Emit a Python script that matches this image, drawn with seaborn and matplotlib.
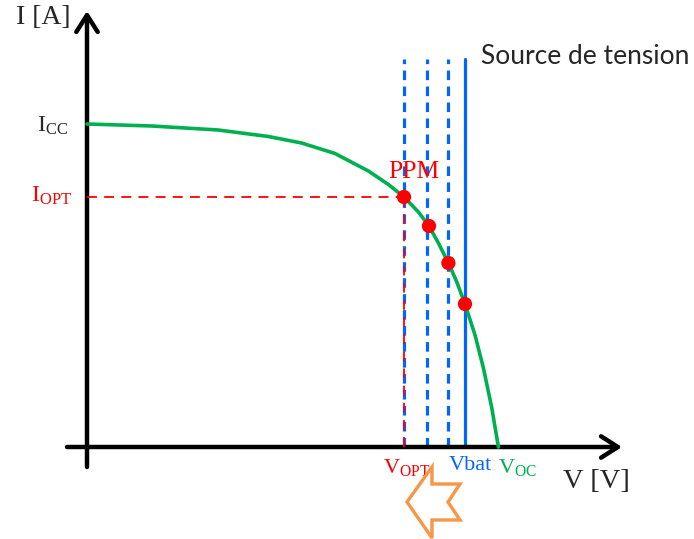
import matplotlib
matplotlib.use("Agg")
import matplotlib.pyplot as plt
import seaborn as sns
import pandas as pd
from matplotlib.patches import Polygon

# I-V characteristic of a PV module (V in volts, I in amperes)
curve_v = [0.0, 3.24, 6.56, 9.07, 10.73, 12.4, 14.07, 15.07, 15.85, 16.57,
           17.1, 17.57, 18.07, 18.49, 18.9, 19.4, 19.82, 20.24, 20.57]
curve_i = [3.23, 3.21, 3.17, 3.105, 3.04, 2.935, 2.76, 2.625, 2.50, 2.35,
           2.21, 2.04, 1.84, 1.65, 1.43, 1.12, 0.79, 0.39, 0.0]

# Operating points for successive battery voltages
op_v = [15.85, 17.1, 18.07, 18.9]
op_i = [2.50, 2.21, 1.84, 1.43]
source_v = [15.85, 17.0, 18.05, 18.9]
source_top = 3.88

v_opt, i_opt = 15.85, 2.50

GREEN = "#00B050"
BLUE = "#0066FF"
RED = "#FF0000"
ORANGE = "#F79646"

sns.set_theme(style="white")
plt.rcParams["mathtext.fontset"] = "custom"
plt.rcParams["mathtext.rm"] = "Liberation Serif"
plt.rcParams["mathtext.it"] = "Liberation Serif:italic"
SERIF = ["Liberation Serif", "DejaVu Serif"]

fig = plt.figure(figsize=(6.94, 5.39), dpi=100)
ax = fig.add_axes([0, 0, 1, 1])

# Axes with arrow heads
arrow_kw = dict(arrowstyle="->,head_length=0.55,head_width=0.35", lw=3.2,
                color="black", mutation_scale=22, shrinkA=0, shrinkB=0)
ax.annotate("", xy=(0, 4.36), xytext=(0, -0.20), arrowprops=arrow_kw)
ax.annotate("", xy=(26.75, 0), xytext=(-1.0, 0), arrowprops=arrow_kw)

# Voltage-source lines (dashed: previous positions, solid: battery voltage)
for k, v in enumerate(source_v):
    style = "-" if k == len(source_v) - 1 else (0, (3.0, 2.0))
    ax.plot([v, v], [0, source_top], color=BLUE, lw=2.3, ls=style, zorder=2)

# Maximum power point guides
ax.plot([0, v_opt], [i_opt, i_opt], color=RED, lw=1.3, ls=(0, (5.5, 4)), zorder=3)
ax.plot([v_opt, v_opt], [0, i_opt], color=RED, lw=1.3, ls=(0, (5.5, 4)), zorder=3)

# I-V curve and operating points
df_curve = pd.DataFrame({"V": curve_v, "I": curve_i})
sns.lineplot(data=df_curve, x="V", y="I", color=GREEN, lw=2.6, sort=False,
             ax=ax, zorder=4)
df_op = pd.DataFrame({"V": op_v, "I": op_i})
sns.scatterplot(data=df_op, x="V", y="I", color=RED, s=105, edgecolor="none",
                ax=ax, zorder=5)
ax.set_xlim(-4.35, 30.35)
ax.set_ylim(-0.92, 4.47)
ax.axis("off")

# Labels
ax.text(-2.2, 4.29, "I [A]", fontsize=20, family=SERIF, ha="center", va="center")
ax.text(-0.95, 3.22, r"$\mathrm{I}_{\mathrm{CC}}$", fontsize=17, ha="right", va="center")
ax.text(-0.75, 2.52, r"$\mathrm{I}_{\mathrm{OPT}}$", fontsize=17, ha="right",
        va="center", color=RED)
ax.text(16.35, 2.75, "PPM", fontsize=18.5, family=SERIF, ha="center", va="center",
        color=RED)
ax.text(19.7, 3.90, "Source de tension", fontsize=19, family=["Lato", "DejaVu Sans"],
        ha="left", va="center")
ax.text(14.8, -0.20, r"$\mathrm{V}_{\mathrm{OPT}}$", fontsize=16, ha="left",
        va="center", color=RED)
ax.text(18.1, -0.19, "Vbat", fontsize=16, family=SERIF, ha="left", va="center",
        color=BLUE)
ax.text(20.55, -0.21, r"$\mathrm{V}_{\mathrm{OC}}$", fontsize=16, ha="left",
        va="center", color=GREEN)
ax.text(23.8, -0.34, "V [V]", fontsize=20.5, family=SERIF, ha="left", va="center")

# Notched arrow showing the shift towards lower voltage
arrow_pts = [(16.0, -0.55), (17.25, -0.20), (17.25, -0.37), (18.65, -0.37),
             (18.05, -0.55), (18.65, -0.73), (17.25, -0.73), (17.25, -0.91)]
ax.add_patch(Polygon(arrow_pts, closed=True, fill=False, edgecolor=ORANGE,
                     lw=2.4, joinstyle="miter", zorder=6))

fig.savefig("out.png", dpi=100)
